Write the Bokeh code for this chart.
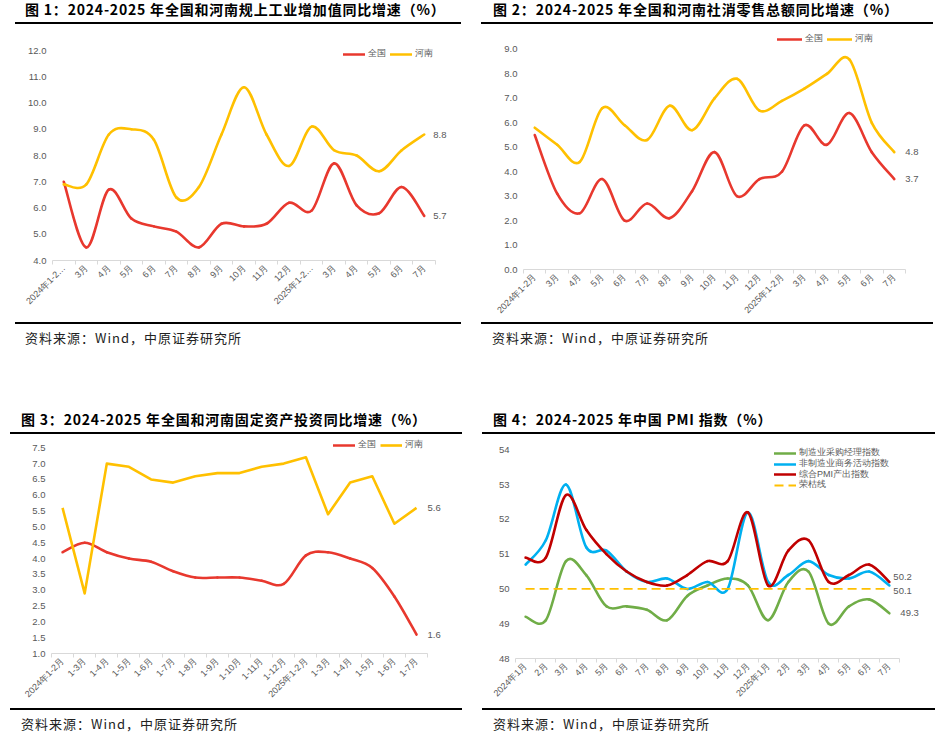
import math
from bokeh.plotting import figure
from bokeh.models import (Range1d, FixedTicker, Label, Legend, LegendItem, Div, Spacer,
                          NumeralTickFormatter, ColumnDataSource)
from bokeh.layouts import column, row
from bokeh.embed import file_html
from bokeh.resources import INLINE

FONT = "Noto Sans CJK SC"
TICKFONT = "Liberation Sans"
GRAY = "#595959"
AXIS = "#D9D9D9"
RED = "#E8382E"
YEL = "#FFC000"
PMI_GREEN = "#70AD47"
PMI_BLUE = "#00B0F0"
PMI_RED = "#C00000"

# ---------------- data ----------------
cats_ind = ["2024年1-2…", "3月", "4月", "5月", "6月", "7月", "8月", "9月", "10月", "11月", "12月",
            "2025年1-2…", "3月", "4月", "5月", "6月", "7月"]
ind_qg = [7.0, 4.5, 6.7, 5.6, 5.3, 5.1, 4.5, 5.4, 5.3, 5.4, 6.2, 5.9, 7.7, 6.1, 5.8, 6.8, 5.7]
ind_hn = [6.9, 6.9, 8.8, 9.0, 8.6, 6.4, 6.8, 8.8, 10.6, 8.8, 7.6, 9.1, 8.2, 8.0, 7.4, 8.2, 8.8]
ind_yticks = [4.0, 5.0, 6.0, 7.0, 8.0, 9.0, 10.0, 11.0, 12.0]

cats_ret = ["2024年1-2月", "3月", "4月", "5月", "6月", "7月", "8月", "9月", "10月", "11月", "12月",
            "2025年1-2月", "3月", "4月", "5月", "6月", "7月"]
ret_qg = [5.5, 3.1, 2.3, 3.7, 2.0, 2.7, 2.1, 3.2, 4.8, 3.0, 3.7, 4.0, 5.9, 5.1, 6.4, 4.8, 3.7]
ret_hn = [5.8, 5.1, 4.4, 6.6, 5.9, 5.3, 6.7, 5.7, 7.0, 7.8, 6.5, 6.9, 7.4, 8.0, 8.6, 6.0, 4.8]
ret_yticks = [0.0, 1.0, 2.0, 3.0, 4.0, 5.0, 6.0, 7.0, 8.0, 9.0]

cats_fai = ["2024年1-2月", "1-3月", "1-4月", "1-5月", "1-6月", "1-7月", "1-8月", "1-9月", "1-10月",
            "1-11月", "1-12月", "2025年1-2月", "1-3月", "1-4月", "1-5月", "1-6月", "1-7月"]
fai_qg = [4.2, 4.5, 4.2, 4.0, 3.9, 3.6, 3.4, 3.4, 3.4, 3.3, 3.2, 4.1, 4.2, 4.0, 3.7, 2.8, 1.6]
fai_hn = [5.6, 2.9, 7.0, 6.9, 6.5, 6.4, 6.6, 6.7, 6.7, 6.9, 7.0, 7.2, 5.4, 6.4, 6.6, 5.1, 5.6]
fai_yticks = [1.0, 1.5, 2.0, 2.5, 3.0, 3.5, 4.0, 4.5, 5.0, 5.5, 6.0, 6.5, 7.0, 7.5]

cats_pmi = ["2024年1月", "2月", "3月", "4月", "5月", "6月", "7月", "8月", "9月", "10月", "11月", "12月",
            "2025年1月", "2月", "3月", "4月", "5月", "6月", "7月"]
pmi_mfg = [49.2, 49.1, 50.8, 50.4, 49.5, 49.5, 49.4, 49.1, 49.8, 50.1, 50.3, 50.1,
           49.1, 50.2, 50.5, 49.0, 49.5, 49.7, 49.3]
pmi_non = [50.7, 51.4, 53.0, 51.2, 51.1, 50.5, 50.2, 50.3, 50.0, 50.2, 50.0, 52.2,
           50.2, 50.4, 50.8, 50.4, 50.3, 50.5, 50.1]
pmi_comp = [50.9, 50.9, 52.7, 51.7, 51.0, 50.5, 50.2, 50.1, 50.4, 50.8, 50.8, 52.2,
            50.1, 51.1, 51.4, 50.2, 50.4, 50.7, 50.2]
rongku = 50.0
pmi_yticks = [48, 49, 50, 51, 52, 53, 54]

titles = ["图 1：2024-2025 年全国和河南规上工业增加值同比增速（%）",
          "图 2：2024-2025 年全国和河南社消零售总额同比增速（%）",
          "图 3：2024-2025 年全国和河南固定资产投资同比增速（%）",
          "图 4：2024-2025 年中国 PMI 指数（%）"]
source_text = "资料来源：Wind，中原证券研究所"
lab_qg = "全国"
lab_hn = "河南"
pmi_labels = ["制造业采购经理指数", "非制造业商务活动指数", "综合PMI产出指数", "荣枯线"]


# ---------------- helpers ----------------
def smooth_source(ys):
    n = len(ys)
    xs = list(range(n))
    d = dict(x0=[], y0=[], x1=[], y1=[], cx0=[], cy0=[], cx1=[], cy1=[])
    for i in range(n - 1):
        a = max(i - 1, 0)
        b = min(i + 2, n - 1)
        d["x0"].append(xs[i]); d["y0"].append(ys[i])
        d["x1"].append(xs[i + 1]); d["y1"].append(ys[i + 1])
        d["cx0"].append(xs[i] + (xs[i + 1] - xs[a]) / 6.0)
        d["cy0"].append(ys[i] + (ys[i + 1] - ys[a]) / 6.0)
        d["cx1"].append(xs[i + 1] - (xs[b] - xs[i]) / 6.0)
        d["cy1"].append(ys[i + 1] - (ys[b] - ys[i]) / 6.0)
    return ColumnDataSource(d)


def make_fig(cats, yticks, ymin, ymax, xextra, height, bl, br, bt, bb, fmt):
    n = len(cats)
    p = figure(width=472, height=height, x_range=Range1d(-0.5, n - 0.5 + xextra),
               y_range=Range1d(ymin, ymax), output_backend="svg", toolbar_location=None,
               tools="", min_border_left=bl, min_border_right=br, min_border_top=bt,
               min_border_bottom=bb, background_fill_color="white", border_fill_color="white")
    p.outline_line_color = None
    p.grid.visible = False
    xa = p.xaxis[0]
    xa.bounds = (-0.5, n - 0.5)
    xa.ticker = FixedTicker(ticks=list(range(n)), minor_ticks=[i - 0.5 for i in range(n + 1)])
    xa.major_label_overrides = {i: c for i, c in enumerate(cats)}
    xa.major_label_orientation = math.pi / 4
    xa.axis_line_color = AXIS
    xa.major_tick_line_color = None
    xa.major_tick_out = 0
    xa.major_tick_in = 0
    xa.minor_tick_line_color = AXIS
    xa.minor_tick_out = 4
    xa.minor_tick_in = 0
    xa.major_label_standoff = 2
    xa.major_label_text_font = TICKFONT
    xa.major_label_text_font_size = "9px"
    xa.major_label_text_color = GRAY
    ya = p.yaxis[0]
    ya.ticker = FixedTicker(ticks=yticks)
    ya.formatter = NumeralTickFormatter(format=fmt)
    ya.axis_line_color = None
    ya.major_tick_line_color = None
    ya.major_tick_out = 0
    ya.major_tick_in = 0
    ya.minor_tick_line_color = None
    ya.major_label_standoff = 6
    ya.major_label_text_font = TICKFONT
    ya.major_label_text_font_size = "9.5px"
    ya.major_label_text_color = GRAY
    return p


def smooth_line(p, ys, color, width=2.6):
    return p.bezier(x0="x0", y0="y0", x1="x1", y1="y1", cx0="cx0", cy0="cy0", cx1="cx1",
                    cy1="cy1", source=smooth_source(ys), line_color=color, line_width=width,
                    line_cap="round")


def add_legend(p, items, orientation, loc, gw=22, spacing=2):
    lg = Legend(items=[LegendItem(label=t, renderers=[r]) for t, r in items],
                orientation=orientation, location=loc)
    lg.glyph_width = gw
    lg.glyph_height = 10
    lg.label_height = 10
    lg.label_standoff = 3
    lg.spacing = spacing
    lg.padding = 0
    lg.margin = 0
    lg.border_line_color = None
    lg.background_fill_alpha = 0
    lg.label_text_font = TICKFONT
    lg.label_text_font_size = "9px"
    lg.label_text_color = GRAY
    p.add_layout(lg)


def end_label(p, x, y, text, xoff, yoff=0):
    p.add_layout(Label(x=x, y=y, text=text, x_offset=xoff, y_offset=yoff,
                       text_baseline="middle", text_align="left", text_font=TICKFONT,
                       text_font_size="9.5px", text_color=GRAY))


def title_div(text, ml, rw, pl, h, pt):
    html = (f'<div style="margin-left:{ml}px;width:{rw}px;height:{h}px;box-sizing:border-box;'
            f'border-bottom:2px solid #000;padding-left:{pl}px;padding-top:{pt}px;'
            f'font-family:\'Noto Sans CJK SC\';font-weight:bold;font-size:14px;line-height:14px;'
            f'letter-spacing:0.8px;color:#000;white-space:nowrap;">{text}</div>')
    return Div(text=html, width=472, height=h, margin=0)


def source_div(ml, rw, pl, h, pt):
    html = (f'<div style="margin-left:{ml}px;width:{rw}px;height:{h}px;box-sizing:border-box;'
            f'border-top:2px solid #000;padding-left:{pl}px;padding-top:{pt}px;'
            f'font-family:\'Noto Sans CJK SC\';font-size:13px;line-height:16px;letter-spacing:1px;'
            f'color:#222;white-space:nowrap;">{source_text}</div>')
    return Div(text=html, width=472, height=h, margin=0)


# ---------------- panel 1 ----------------
p1 = make_fig(cats_ind, ind_yticks, 4.0, 12.305, 0.71, 298, 52, 21, 18, 62, "0.0")
r1a = smooth_line(p1, ind_qg, RED)
r1b = smooth_line(p1, ind_hn, YEL)
add_legend(p1, [(lab_qg, r1a), (lab_hn, r1b)], "horizontal", (291, 200))
end_label(p1, len(ind_hn) - 1, ind_hn[-1], f"{ind_hn[-1]:.1f}", 9)
end_label(p1, len(ind_qg) - 1, ind_qg[-1], f"{ind_qg[-1]:.1f}", 9)

# ---------------- panel 2 ----------------
p2 = make_fig(cats_ret, ret_yticks, 0.0, 9.777, 0.80, 298, 51, 21, 6, 53, "0.0")
r2a = smooth_line(p2, ret_qg, RED)
r2b = smooth_line(p2, ret_hn, YEL)
add_legend(p2, [(lab_qg, r2a), (lab_hn, r2b)], "horizontal", (254, 224), gw=25)
end_label(p2, len(ret_hn) - 1, ret_hn[-1], f"{ret_hn[-1]:.1f}", 11)
end_label(p2, len(ret_qg) - 1, ret_qg[-1], f"{ret_qg[-1]:.1f}", 11)

# ---------------- panel 3 ----------------
p3 = make_fig(cats_fai, fai_yticks, 1.0, 7.92, 0.81, 274, 51, 27, 0, 55, "0.0")
r3a = smooth_line(p3, fai_qg, RED)
r3b = p3.line(x=list(range(len(fai_hn))), y=fai_hn, line_color=YEL, line_width=2.6,
              line_join="round")
add_legend(p3, [(lab_qg, r3a), (lab_hn, r3b)], "horizontal", (282, 202))
end_label(p3, len(fai_hn) - 1, fai_hn[-1], f"{fai_hn[-1]:.1f}", 11)
end_label(p3, len(fai_qg) - 1, fai_qg[-1], f"{fai_qg[-1]:.1f}", 11)

# ---------------- panel 4 ----------------
p4 = make_fig(cats_pmi, pmi_yticks, 48, 54.268, 1.09, 274, 43, 23, 6, 50, "0")
r4a = smooth_line(p4, pmi_mfg, PMI_GREEN)
r4b = smooth_line(p4, pmi_non, PMI_BLUE)
r4c = smooth_line(p4, pmi_comp, PMI_RED)
r4d = p4.line(x=list(range(len(cats_pmi))), y=[rongku] * len(cats_pmi), line_color=YEL,
              line_width=1.8, line_dash="9 5")
# one single-entry legend per row, so that the rows sit as tightly as in the reference
pmi_rows_y = [199, 188, 177.5, 167]
for lab, rend, ly in zip(pmi_labels, [r4a, r4b, r4c, r4d], pmi_rows_y):
    add_legend(p4, [(lab, rend)], "vertical", (259, ly))
n4 = len(cats_pmi) - 1
end_label(p4, n4, pmi_comp[-1], f"{pmi_comp[-1]:.1f}", 4, 4.5)
end_label(p4, n4, pmi_non[-1], f"{pmi_non[-1]:.1f}", 4, -6)
end_label(p4, n4, pmi_mfg[-1], f"{pmi_mfg[-1]:.1f}", 11)

# ---------------- layout (page origin at 0,0) ----------------
col1 = column(title_div(titles[0], 15, 446, 10, 24, 2), p1,
              source_div(15, 446, 10, 26, 6), margin=0)
col2 = column(title_div(titles[1], 9, 452, 12, 24, 2), p2,
              source_div(9, 452, 11, 26, 6), margin=0)
col3 = column(title_div(titles[2], 10, 452, 11, 24, 2), p3,
              source_div(10, 452, 11, 28, 6), margin=0)
col4 = column(title_div(titles[3], 10, 453, 11, 24, 2), p4,
              source_div(10, 453, 11, 28, 6), margin=0)

page = column(row(col1, col2, margin=0), Spacer(width=944, height=62, margin=0),
              row(col3, col4, margin=0), margin=0)

open("out.html", "w").write(file_html(page, INLINE))
